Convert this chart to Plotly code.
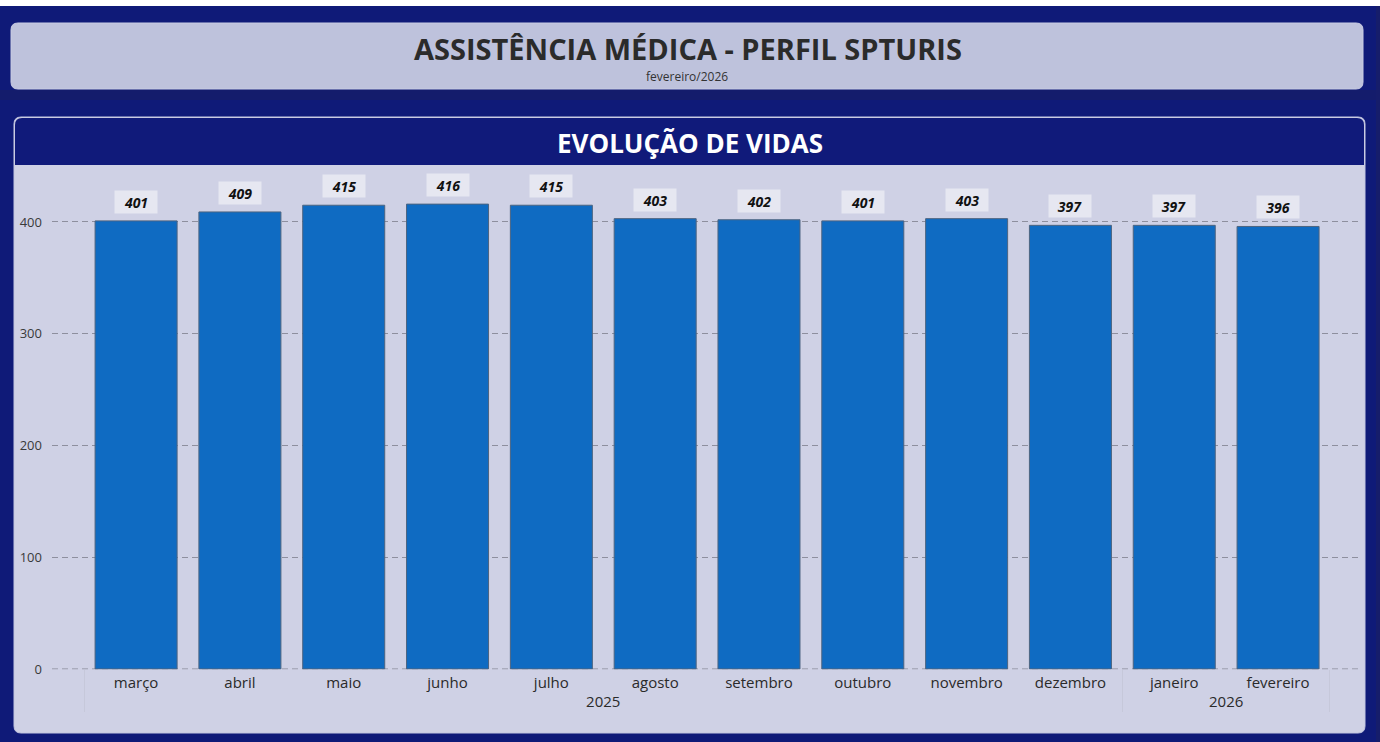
import plotly.graph_objects as go

# ---- data ----
months = ["março", "abril", "maio", "junho", "julho", "agosto", "setembro",
          "outubro", "novembro", "dezembro", "janeiro", "fevereiro"]
years = ["2025"] * 10 + ["2026"] * 2
vidas = [401, 409, 415, 416, 415, 403, 402, 401, 403, 397, 397, 396]

title_text = "ASSISTÊNCIA MÉDICA - PERFIL SPTURIS"
subtitle_text = "fevereiro/2026"
panel_title = "EVOLUÇÃO DE VIDAS"

W, H = 1380, 742
NAVY = "#0f1a78"
GRID = "#8e8f9e"


def fx(px):
    return px / W


def fy(py):
    return 1 - py / H


def rrect(x0, y0, x1, y1, r, top_only=False):
    rb = 0 if top_only else r
    pts = []
    pts.append(f"M {fx(x0 + r)},{fy(y0)}")
    pts.append(f"L {fx(x1 - r)},{fy(y0)}")
    pts.append(f"Q {fx(x1)},{fy(y0)} {fx(x1)},{fy(y0 + r)}")
    pts.append(f"L {fx(x1)},{fy(y1 - rb)}")
    if rb:
        pts.append(f"Q {fx(x1)},{fy(y1)} {fx(x1 - rb)},{fy(y1)}")
    pts.append(f"L {fx(x0 + rb)},{fy(y1)}")
    if rb:
        pts.append(f"Q {fx(x0)},{fy(y1)} {fx(x0)},{fy(y1 - rb)}")
    pts.append(f"L {fx(x0)},{fy(y0 + r)}")
    pts.append(f"Q {fx(x0)},{fy(y0)} {fx(x0 + r)},{fy(y0)}")
    pts.append("Z")
    return " ".join(pts)


fig = go.Figure()
fig.add_trace(go.Bar(
    x=[years, months],
    y=vidas,
    marker=dict(color="#0f6bc2", line=dict(color="#4d6480", width=1)),
    hoverinfo="skip",
))

annotations = []
for i, v in enumerate(vidas):
    annotations.append(dict(
        x=i, y=v, xref="x", yref="y", text=f"<b><i>{v}</i></b>",
        showarrow=False, yanchor="bottom", yshift=7,
        width=40, height=20,
        font=dict(family="Open Sans", size=14, color="#111111"),
        bgcolor="#e6e7f1", borderpad=1,
    ))

annotations += [
    dict(x=fx(688), y=fy(48), xref="paper", yref="paper", text=f"<b>{title_text}</b>",
         showarrow=False, xanchor="center", yanchor="middle",
         font=dict(family="Open Sans", size=29, color="#2b2b2b")),
    dict(x=fx(687), y=fy(76), xref="paper", yref="paper", text=subtitle_text,
         showarrow=False, xanchor="center", yanchor="middle",
         font=dict(family="Open Sans", size=12, color="#333333")),
    dict(x=fx(690), y=fy(143), xref="paper", yref="paper", text=f"<b>{panel_title}</b>",
         showarrow=False, xanchor="center", yanchor="middle",
         font=dict(family="Open Sans", size=26, color="#ffffff")),
]

shapes = [
    dict(type="rect", xref="paper", yref="paper", x0=0, x1=1, y0=fy(6), y1=1,
         fillcolor="#ffffff", line=dict(width=0), layer="below"),
    dict(type="rect", xref="paper", yref="paper", x0=fx(1376), x1=1, y0=0, y1=fy(6),
         fillcolor="#161d6b", line=dict(width=0), layer="below"),
    dict(type="rect", xref="paper", yref="paper", x0=fx(0), x1=fx(1376), y0=fy(100), y1=fy(90),
         fillcolor="#141c6c", line=dict(width=0), layer="below"),
    dict(type="path", xref="paper", yref="paper", path=rrect(11, 23, 1363, 89, 7),
         fillcolor="#bec2dc", line=dict(color="#c9cce3", width=1), layer="below"),
    dict(type="path", xref="paper", yref="paper", path=rrect(14, 117, 1365, 733, 7),
         fillcolor="#cfd1e5", line=dict(color="#c3c6e0", width=1), layer="below"),
    dict(type="path", xref="paper", yref="paper", path=rrect(15, 118, 1364, 165, 7, top_only=True),
         fillcolor="#101a7a", line=dict(width=0), layer="below"),
    # zero baseline drawn like the other dashed gridlines
    dict(type="line", xref="paper", yref="y", x0=fx(52), x1=fx(1358), y0=0, y1=0,
         line=dict(color=GRID, width=1, dash="6px,4px"), layer="below"),
]

fig.update_layout(
    width=W, height=H,
    margin=dict(l=0, r=0, t=0, b=0),
    paper_bgcolor=NAVY,
    plot_bgcolor="rgba(0,0,0,0)",
    showlegend=False,
    bargap=0.21,
    shapes=shapes,
    annotations=annotations,
    xaxis=dict(
        domain=[fx(52), fx(1358)],
        range=[-0.81, 11.77],
        showgrid=False, showline=False, zeroline=False, ticks="",
        tickfont=dict(family="Open Sans", size=15, color="#2a2a2a"),
        ticklabelstandoff=3,
        dividercolor="#c6c8da", dividerwidth=1,
        automargin=False,
    ),
    yaxis=dict(
        domain=[fy(669 + 0.4), fy(669 - 445 * 1.1175)],
        range=[-0.4, 445],
        dtick=100,
        showgrid=True, gridcolor=GRID, griddash="6px,4px", gridwidth=1,
        zeroline=False, showline=False, ticks="",
        tickfont=dict(family="Open Sans", size=13, color="#3a3a3a"),
        ticklabelstandoff=9,
        automargin=False,
    ),
)

fig.write_html(
    "out.html",
    config={"displayModeBar": False},
    post_script="document.body.style.margin='0';document.body.style.background='#ffffff';",
)
